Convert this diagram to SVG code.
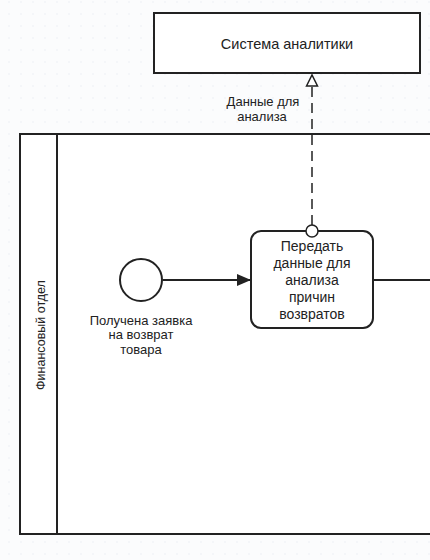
<svg xmlns="http://www.w3.org/2000/svg" width="430" height="560" viewBox="0 0 430 560">
  <defs>
    <pattern id="grid" x="3" y="-4" width="12" height="12" patternUnits="userSpaceOnUse">
      <rect x="5.5" y="5.5" width="1" height="1" fill="#dfe3ea"/>
    </pattern>
    <marker id="arrowFilled" viewBox="0 0 14 12" refX="14" refY="6" markerWidth="14" markerHeight="12" markerUnits="userSpaceOnUse" orient="auto">
      <path d="M0,0 L14,6 L0,12 Z" fill="#222"/>
    </marker>
    <marker id="arrowOpen" viewBox="0 0 14 14" refX="12" refY="7" markerWidth="14" markerHeight="14" markerUnits="userSpaceOnUse" orient="auto">
      <path d="M1,1.5 L12,7 L1,12.5 Z" fill="#fff" stroke="#222" stroke-width="1.5"/>
    </marker>
  </defs>
  <style>
    .shape { fill: #fff; stroke: #222; stroke-width: 2; }
    .lbl { font-family: "Liberation Sans", Arial, sans-serif; fill: #222; text-anchor: middle; }
    .flow { fill: none; stroke: #222; stroke-width: 2; }
    .assoc { fill: none; stroke: #222; stroke-width: 1.5; stroke-dasharray: 10 6; }
  </style>
  <rect x="0" y="0" width="430" height="560" fill="#fbfcfd"/>
  <rect x="0" y="0" width="430" height="560" fill="url(#grid)"/>

  <g id="pool">
    <rect class="shape" x="20" y="134" width="420" height="400"/>
    <line x1="57" y1="134" x2="57" y2="534" stroke="#222" stroke-width="2"/>
    <text class="lbl" font-size="12.5" transform="translate(44.5,335) rotate(-90)">Финансовый отдел</text>
  </g>

  <g id="system">
    <rect class="shape" x="154" y="13" width="266" height="60"/>
    <text class="lbl" font-size="14.5" x="287" y="49">Система аналитики</text>
  </g>

  <g id="connectors">
    <line class="flow" x1="163" y1="280" x2="251" y2="280" marker-end="url(#arrowFilled)"/>
    <line class="flow" x1="373" y1="280" x2="432" y2="280"/>
    <line class="assoc" x1="312" y1="225" x2="312" y2="75" marker-end="url(#arrowOpen)"/>
    <text class="lbl" font-size="13" x="263" y="106">Данные для</text>
    <text class="lbl" font-size="13" x="262" y="121">анализа</text>
  </g>

  <g id="start">
    <circle class="shape" cx="141" cy="280" r="21"/>
    <text class="lbl" font-size="13" x="141" y="325">Получена заявка</text>
    <text class="lbl" font-size="13" x="141" y="339">на возврат</text>
    <text class="lbl" font-size="13" x="141" y="354">товара</text>
  </g>

  <g id="task">
    <rect class="shape" x="251" y="231" width="122" height="97" rx="10" ry="10"/>
    <text class="lbl" font-size="14" x="312" y="251">Передать</text>
    <text class="lbl" font-size="14" x="312" y="268">данные для</text>
    <text class="lbl" font-size="14" x="312" y="285">анализа</text>
    <text class="lbl" font-size="14" x="312" y="302">причин</text>
    <text class="lbl" font-size="14" x="312" y="319">возвратов</text>
  </g>
  <circle cx="312" cy="231" r="6" fill="#fff" stroke="#222" stroke-width="1.5"/>
</svg>
